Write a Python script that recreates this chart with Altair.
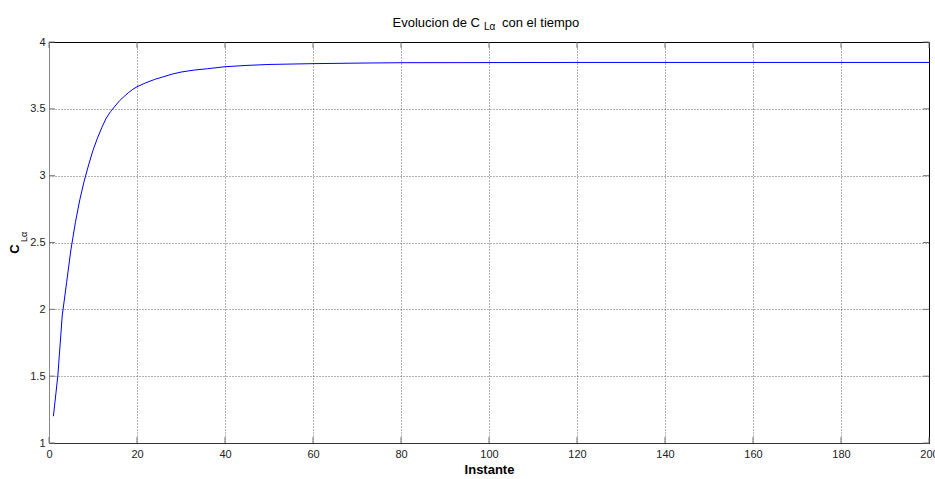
import altair as alt
import pandas as pd

# Curve values
instante = [1, 2, 3, 4, 5, 6, 7, 8, 9, 10, 11, 12, 13, 14, 15, 16, 17, 18, 19, 20,
            22, 24, 26, 28, 30, 33, 36, 40, 45, 50, 60, 70, 80, 100, 120, 150, 200]
cla = [1.20, 1.50, 1.95, 2.20, 2.45, 2.65, 2.82, 2.96, 3.08, 3.19, 3.28, 3.36, 3.43, 3.48,
       3.52, 3.56, 3.59, 3.62, 3.645, 3.665, 3.695, 3.72, 3.74, 3.76, 3.775, 3.79, 3.80,
       3.815, 3.825, 3.832, 3.838, 3.842, 3.845, 3.846, 3.847, 3.847, 3.847]

x_ticks = [0, 20, 40, 60, 80, 100, 120, 140, 160, 180, 200]
y_ticks = [1, 1.5, 2, 2.5, 3, 3.5, 4]

W, H = 880, 401
FONT = "Liberation Sans"

df = pd.DataFrame({"x": instante, "y": cla})
xt = pd.DataFrame({"t": x_ticks})
yt = pd.DataFrame({"t": y_ticks})

xs = alt.Scale(domain=[0, 200], nice=False, zero=False)
ys = alt.Scale(domain=[1, 4], nice=False, zero=False)

xaxis = alt.Axis(values=x_ticks, grid=True, gridDash=[1, 2], gridColor="#000000",
                 gridOpacity=0.6, ticks=False, labelPadding=5, labelFont=FONT,
                 labelFontSize=11, labelColor="#222222", labelFlush=False,
                 domainColor="#333333", title="Instante", titleFont=FONT,
                 titleFontSize=13, titleFontWeight="bold", titleColor="#000000",
                 titlePadding=4, labelOverlap=False)
yaxis = alt.Axis(values=y_ticks, grid=True, gridDash=[1, 2], gridColor="#000000",
                 gridOpacity=0.6, ticks=False, labelPadding=4, labelFont=FONT,
                 labelFontSize=11, labelColor="#222222", labelFlush=False,
                 domainColor="#888888", title=None, format="~g", labelOverlap=False)

line = alt.Chart(df).mark_line(color="#0000ff", strokeWidth=1).encode(
    x=alt.X("x:Q", scale=xs, axis=xaxis),
    y=alt.Y("y:Q", scale=ys, axis=yaxis),
)

tick_color = "#777777"
xt_bottom = alt.Chart(xt).mark_rule(color=tick_color).encode(
    x=alt.X("t:Q", scale=xs), y=alt.value(H), y2=alt.value(H - 6))
xt_top = alt.Chart(xt).mark_rule(color=tick_color).encode(
    x=alt.X("t:Q", scale=xs), y=alt.value(0), y2=alt.value(6))
yt_left = alt.Chart(yt).mark_rule(color=tick_color).encode(
    y=alt.Y("t:Q", scale=ys), x=alt.value(0), x2=alt.value(6))
yt_right = alt.Chart(yt).mark_rule(color=tick_color).encode(
    y=alt.Y("t:Q", scale=ys), x=alt.value(W), x2=alt.value(W - 6))

one = pd.DataFrame({"a": [0]})
t1 = alt.Chart(one).mark_text(text="Evolucion de C", font=FONT, fontSize=13,
                              align="right", baseline="alphabetic", color="#000").encode(
    x=alt.value(431), y=alt.value(-15))
t2 = alt.Chart(one).mark_text(text="Lα", font=FONT, fontSize=10,
                              align="left", baseline="alphabetic", color="#000").encode(
    x=alt.value(435), y=alt.value(-12.5))
t3 = alt.Chart(one).mark_text(text="con el tiempo", font=FONT, fontSize=13,
                              align="left", baseline="alphabetic", color="#000").encode(
    x=alt.value(453), y=alt.value(-15))

yl1 = alt.Chart(one).mark_text(text="C", font=FONT, fontSize=13, fontWeight="bold",
                               angle=270, align="center", baseline="alphabetic",
                               color="#000").encode(
    x=alt.value(-30), y=alt.value(207))
yl2 = alt.Chart(one).mark_text(text="Lα", font=FONT, fontSize=9,
                               angle=270, align="center", baseline="alphabetic",
                               color="#000").encode(
    x=alt.value(-22), y=alt.value(195))

chart = alt.layer(line, xt_bottom, xt_top, yt_left, yt_right, t1, t2, t3, yl1, yl2).properties(
    width=W, height=H,
    padding={"left": 49, "top": 42, "right": 6, "bottom": 36},
    autosize=alt.AutoSizeParams(type="none"),
    background="white",
).configure_view(stroke="#000000", strokeWidth=1)

chart.save("out.html", embed_options={"renderer": "svg", "actions": False})
